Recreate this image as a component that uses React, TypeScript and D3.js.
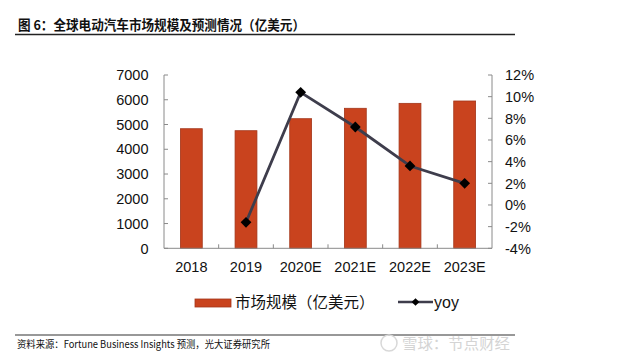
import React from 'react';
import * as d3 from 'd3';

const years = ['2018', '2019', '2020E', '2021E', '2022E', '2023E'];
const marketSize = [4830, 4750, 5235, 5655, 5855, 5950];
const yoyYears = ['2019', '2020E', '2021E', '2022E', '2023E'];
const yoyValues = [-1.6, 10.4, 7.2, 3.6, 2.0];
const leftTicks = [0, 1000, 2000, 3000, 4000, 5000, 6000, 7000];
const rightTicks = [-4, -2, 0, 2, 4, 6, 8, 10, 12];

const WIDTH = 640;
const HEIGHT = 364;
const PLOT_LEFT = 164;
const PLOT_RIGHT = 492;
const PLOT_TOP = 75;
const PLOT_BOTTOM = 248.3;

const BAR_FILL = '#c9431e';
const BAR_STROKE = '#a3361a';
const LINE_COLOR = '#3e3d4c';
const AXIS_COLOR = '#8a8a8a';
const NUM_FONT = '"Liberation Sans", Arial, sans-serif';
const CJK_FONT = '"Noto Sans CJK SC", sans-serif';

export default function App() {
  const x = d3.scaleBand<string>()
    .domain(years)
    .range([PLOT_LEFT, PLOT_RIGHT])
    .paddingInner(0.6)
    .paddingOuter(0.3);

  const yLeft = d3.scaleLinear().domain([0, 7000]).range([PLOT_BOTTOM, PLOT_TOP]);
  const yRight = d3.scaleLinear().domain([-4, 12]).range([PLOT_BOTTOM, PLOT_TOP]);

  const cx = (d: string) => (x(d) as number) + x.bandwidth() / 2;

  const line = d3.line<number>()
    .x((d, i) => cx(yoyYears[i]))
    .y(d => yRight(d));

  const diamond = d3.symbol().type(d3.symbolSquare).size(58)();

  const step = x.step();

  return (
    <div style={{ position: 'fixed', left: 0, top: 0 }}>
      <svg width={WIDTH} height={HEIGHT} style={{ display: 'block', background: '#fff' }}>
        {/* title */}
        <text x={18} y={29.5} fontFamily={CJK_FONT} fontWeight="bold" fontSize={13.3} fill="#111"
          textLength={287} lengthAdjust="spacingAndGlyphs">
          图 6：全球电动汽车市场规模及预测情况（亿美元）
        </text>
        <line x1={15} x2={515} y1={34.5} y2={34.5} stroke="#222" strokeWidth={1.5} />

        {/* bars */}
        {years.map((d, i) => (
          <rect
            key={d}
            x={x(d)}
            y={yLeft(marketSize[i])}
            width={x.bandwidth()}
            height={PLOT_BOTTOM - yLeft(marketSize[i])}
            fill={BAR_FILL}
            stroke={BAR_STROKE}
            strokeWidth={0.8}
          />
        ))}

        {/* axes */}
        <g stroke={AXIS_COLOR} strokeWidth={1} fill="none">
          <line x1={PLOT_LEFT} x2={PLOT_LEFT} y1={PLOT_TOP} y2={PLOT_BOTTOM} />
          <line x1={PLOT_RIGHT} x2={PLOT_RIGHT} y1={PLOT_TOP} y2={PLOT_BOTTOM} />
          <line x1={PLOT_LEFT} x2={PLOT_RIGHT} y1={PLOT_BOTTOM} y2={PLOT_BOTTOM} />
          {leftTicks.map(t => (
            <line key={'l' + t} x1={PLOT_LEFT} x2={PLOT_LEFT + 4} y1={yLeft(t)} y2={yLeft(t)} />
          ))}
          {rightTicks.map(t => (
            <line key={'r' + t} x1={PLOT_RIGHT - 4} x2={PLOT_RIGHT} y1={yRight(t)} y2={yRight(t)} />
          ))}
          {years.slice(1).map((d, i) => (
            <line key={'b' + d} x1={PLOT_LEFT + step * (i + 1)} x2={PLOT_LEFT + step * (i + 1)} y1={PLOT_BOTTOM - 4} y2={PLOT_BOTTOM} />
          ))}
        </g>

        {/* left tick labels */}
        {leftTicks.map(t => (
          <text key={'lt' + t} x={148.5} y={yLeft(t) + 5.2} textAnchor="end" fontFamily={NUM_FONT} fontSize={14.5} fill="#111">
            {t}
          </text>
        ))}
        {/* right tick labels */}
        {rightTicks.map(t => (
          <text key={'rt' + t} x={505} y={yRight(t) + 5.2} fontFamily={NUM_FONT} fontSize={14.5} fill="#111">
            {t + '%'}
          </text>
        ))}
        {/* category labels */}
        {years.map(d => (
          <text key={'xt' + d} x={cx(d)} y={272} textAnchor="middle" fontFamily={NUM_FONT} fontSize={14.5} fill="#111">
            {d}
          </text>
        ))}

        {/* yoy line */}
        <path d={line(yoyValues) || ''} fill="none" stroke={LINE_COLOR} strokeWidth={2.8} strokeLinejoin="round" />
        {yoyValues.map((v, i) => (
          <path
            key={'m' + i}
            d={diamond || ''}
            transform={`translate(${cx(yoyYears[i])},${yRight(v)}) rotate(45)`}
            fill="#000"
          />
        ))}

        {/* legend */}
        <rect x={195} y={299} width={36} height={8} fill={BAR_FILL} stroke={BAR_STROKE} strokeWidth={0.8} />
        <text x={235} y={307.5} fontFamily={CJK_FONT} fontSize={15.5} fill="#111">
          市场规模（亿美元）
        </text>
        <line x1={398} x2={433} y1={302} y2={302} stroke={LINE_COLOR} strokeWidth={2.5} />
        <path d={d3.symbol().type(d3.symbolSquare).size(30)() || ''} transform="translate(415.5,302) rotate(45)" fill="#000" />
        <text x={434} y={307.5} fontFamily={NUM_FONT} fontSize={16} fill="#111">
          yoy
        </text>

        {/* footer */}
        <line x1={15} x2={515} y1={335} y2={335} stroke="#333" strokeWidth={1.2} />
        <text x={17} y={348} fontFamily={CJK_FONT} fontSize={10.5} fill="#111"
          textLength={253} lengthAdjust="spacingAndGlyphs">
          资料来源：Fortune Business Insights 预测，光大证券研究所
        </text>

        {/* watermark */}
        <circle cx={389} cy={343} r={8} fill="none" stroke="#d8d8d8" strokeWidth={1.5} />
        <text x={402} y={349} fontFamily={CJK_FONT} fontSize={15} fill="#d4d4d4"
          textLength={108} lengthAdjust="spacingAndGlyphs">
          雪球：节点财经
        </text>
      </svg>
    </div>
  );
}
